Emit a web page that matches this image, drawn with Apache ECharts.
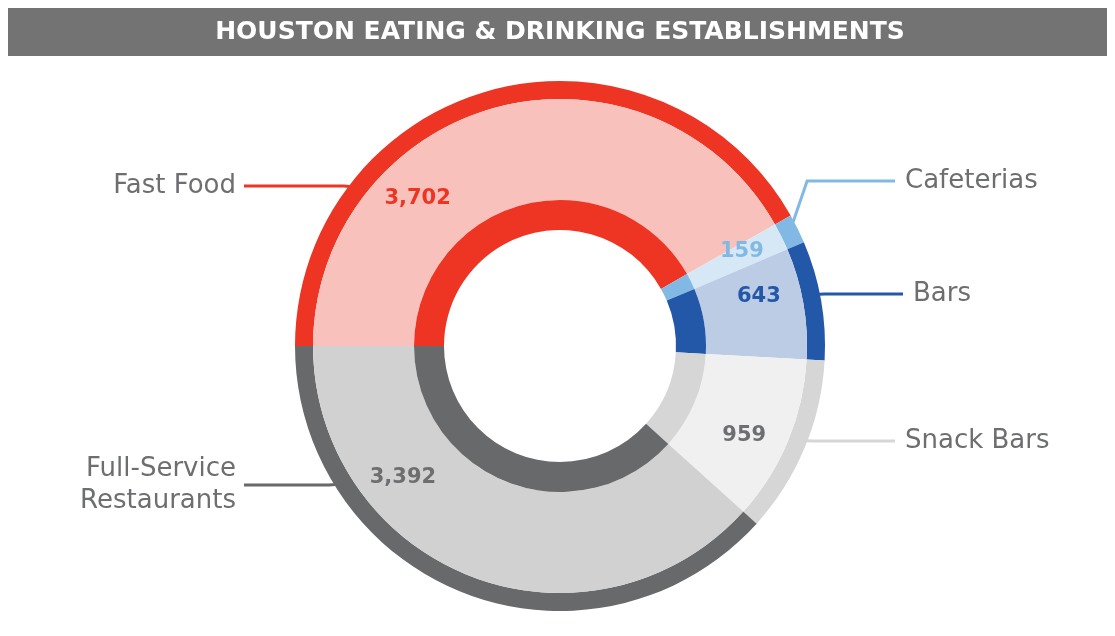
<!DOCTYPE html>
<html>
<head>
<meta charset="utf-8">
<script src="https://cdn.jsdelivr.net/npm/echarts@6/dist/echarts.min.js"></script>
<style>
html, body { margin: 0; padding: 0; background: #fff; }
#chart { width: 1115px; height: 636px; }
</style>
</head>
<body>
<div id="chart"></div>
<script>
var categories = ['Fast Food', 'Cafeterias', 'Bars', 'Snack Bars', 'Full-Service\nRestaurants'];
var counts = [3702, 159, 643, 959, 3392];
var valueText = ['3,702', '159', '643', '959', '3,392'];

var darkColors = ['#ee3524', '#82b9e4', '#2358a8', '#d6d6d6', '#68696b'];
var lightColors = ['#f8c1bb', '#d6e8f6', '#bbcce4', '#f0f0f0', '#d1d1d1'];
var numberColors = ['#ee3524', '#82b9e4', '#2358a8', '#6d6e70', '#6d6e70'];

// geometry of the rings (px)
var cx = 560, cy = 346;
var rOuter = 265, rBand = 247, rInner = 146, rHole = 116;
var startAngle = 180;

// where each name sits: side, text y, where the leader line stops
var nameSpots = [
  { side: 'left', y: 186, end: 244 },
  { side: 'right', y: 181, end: 895 },
  { side: 'right', y: 294, end: 903 },
  { side: 'right', y: 441, end: 895 },
  { side: 'left', y: 485, end: 244 }
];
// preferred angle for the number inside each slice
var numberAngles = [134, 39, 14, -26, -140];

var total = counts.reduce(function (s, v) { return s + v; }, 0);
var ranges = [];
(function () {
  var a = startAngle;
  counts.forEach(function (v) {
    var span = v / total * 360;
    ranges.push([a - span, a]);
    a -= span;
  });
})();

function clampAngle(ang, i, margin) {
  var lo = ranges[i][0] + margin, hi = ranges[i][1] - margin;
  while (ang < ranges[i][0] - 180) ang += 360;
  while (ang > ranges[i][0] + 180) ang -= 360;
  if (lo > hi) return (ranges[i][0] + ranges[i][1]) / 2;
  return Math.min(hi, Math.max(lo, ang));
}
function polar(r, deg) {
  var t = deg * Math.PI / 180;
  return [cx + r * Math.cos(t), cy - r * Math.sin(t)];
}

function ringData(colors, labelColors, withLines) {
  return categories.map(function (name, i) {
    var d = { name: name, value: counts[i], itemStyle: { color: colors[i] } };
    if (withLines) d.labelLine = { lineStyle: { color: darkColors[i], width: 3 } };
    if (labelColors) d.label = { color: labelColors[i] };
    return d;
  });
}

var chart = echarts.init(document.getElementById('chart'));
chart.setOption({
  animation: false,
  graphic: [
    { type: 'rect', shape: { x: 8, y: 8, width: 1099, height: 48 }, style: { fill: '#737373' }, silent: true },
    {
      type: 'text', x: 560, y: 32, silent: true,
      style: {
        text: 'HOUSTON EATING & DRINKING ESTABLISHMENTS',
        fill: '#ffffff', font: 'bold 25px "DejaVu Sans"',
        align: 'center', verticalAlign: 'middle'
      }
    }
  ],
  series: [
    {
      // outer thin ring + category names
      type: 'pie', silent: true, startAngle: startAngle, clockwise: true,
      center: [cx, cy], radius: [rBand, rOuter],
      data: ringData(darkColors, null, true),
      label: {
        show: true, position: 'outside',
        color: '#6d6e70', fontFamily: 'DejaVu Sans', fontSize: 26, lineHeight: 32,
        formatter: '{b}'
      },
      labelLine: { show: true, length: 10, length2: 10 },
      labelLayout: function (p) {
        var i = p.dataIndex, s = nameSpots[i];
        var sinv = Math.max(-1, Math.min(1, (cy - s.y) / rOuter));
        var ang = Math.asin(sinv) * 180 / Math.PI;
        if (s.side === 'left') ang = 180 - ang;
        ang = clampAngle(ang, i, 1.5);
        var pt = polar(rOuter - 1, ang);
        var dir = s.side === 'left' ? -1 : 1;
        var elbow = Math.abs(pt[1] - s.y) < 1 ? [pt[0] + dir * 6, s.y] : [pt[0] + dir * 14, s.y];
        return {
          x: s.side === 'left' ? s.end - 8 : s.end + 10,
          y: s.y,
          align: s.side === 'left' ? 'right' : 'left',
          verticalAlign: 'middle',
          labelLinePoints: [pt, elbow, [s.end, s.y]]
        };
      }
    },
    {
      // wide light band with the counts
      type: 'pie', silent: true, startAngle: startAngle, clockwise: true,
      center: [cx, cy], radius: [rInner, rBand],
      data: ringData(lightColors, numberColors, false),
      label: {
        show: true, position: 'inside',
        fontFamily: 'DejaVu Sans', fontWeight: 'bold', fontSize: 21,
        formatter: function (p) { return valueText[p.dataIndex]; }
      },
      labelLine: { show: false },
      labelLayout: function (p) {
        var i = p.dataIndex;
        var pt = polar(205, clampAngle(numberAngles[i], i, 2));
        return { x: pt[0], y: pt[1], align: 'center', verticalAlign: 'middle' };
      }
    },
    {
      // inner ring
      type: 'pie', silent: true, startAngle: startAngle, clockwise: true,
      center: [cx, cy], radius: [rHole, rInner],
      data: ringData(darkColors, null, false),
      label: { show: false },
      labelLine: { show: false }
    }
  ]
});
</script>
</body>
</html>
